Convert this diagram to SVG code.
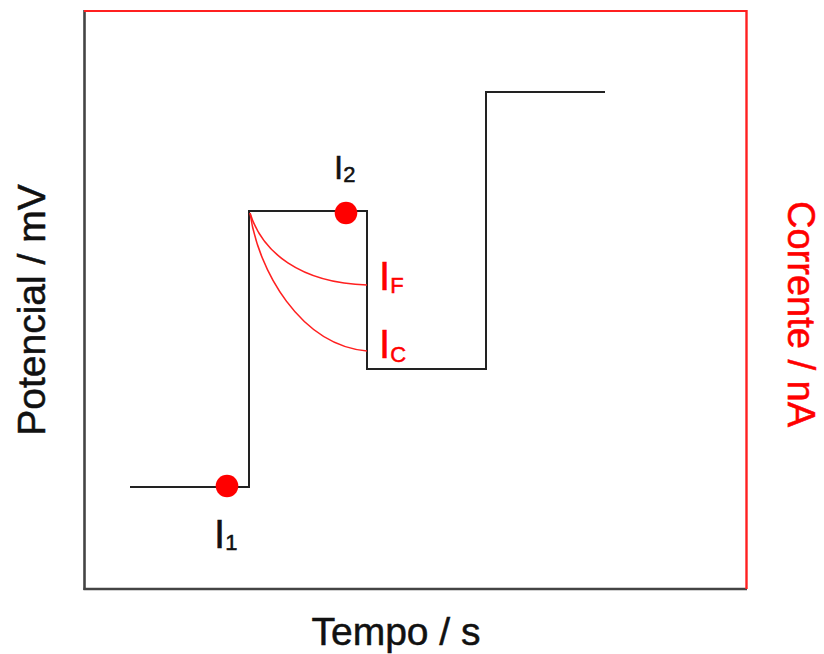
<svg xmlns="http://www.w3.org/2000/svg" width="824" height="654" viewBox="0 0 824 654">
<style>
.t{font-family:"Liberation Sans",Arial,sans-serif;stroke-width:0.5;}
.k{fill:#111;stroke:#111;}
.r{fill:#ff0000;stroke:#ff0000;}
.step{fill:none;stroke:#222;stroke-width:2;}
.cur{fill:none;stroke:#ff2020;stroke-width:1.6;}
.dot{fill:#ff0000;}
</style>
<rect width="824" height="654" fill="#fff"/>
<g id="frame">
<line x1="84.5" y1="10" x2="84.5" y2="590" stroke="#444" stroke-width="2.6"/>
<line x1="83.5" y1="589" x2="747" y2="589" stroke="#444" stroke-width="2.6"/>
<line x1="84" y1="11" x2="747" y2="11" stroke="#ff2020" stroke-width="2"/>
<line x1="746.5" y1="10" x2="746.5" y2="589" stroke="#ff2020" stroke-width="2.4"/>
</g>
<g id="connectors">
<polyline class="step" points="130,487 249,487 249,211 367,211 367,369 486,369 486,92 605,92"/>
<path class="cur" d="M250,213 C262,252 300,283 367,285"/>
<path class="cur" d="M250,213 C258,270 300,345 367,351"/>
</g>
<g id="I1">
<circle class="dot" cx="227" cy="486" r="11.3"/>
<text class="t k" x="214" y="548" font-size="40">I<tspan font-size="22" dy="2">1</tspan></text>
</g>
<g id="I2">
<circle class="dot" cx="346" cy="213" r="11.3"/>
<text class="t k" x="334" y="179" font-size="33">I<tspan font-size="22" dy="3">2</tspan></text>
</g>
<g id="IF">
<text class="t r" x="379" y="290" font-size="40">I<tspan font-size="22" dy="3">F</tspan></text>
</g>
<g id="IC">
<text class="t r" x="379" y="358" font-size="40">I<tspan font-size="22" dy="4">C</tspan></text>
</g>
<g id="axis-labels">
<text class="t k" x="396" y="645" font-size="39" text-anchor="middle">Tempo / s</text>
<text class="t k" transform="translate(45,310) rotate(-90)" font-size="39" text-anchor="middle">Potencial / mV</text>
<text class="t r" transform="translate(788,314) rotate(90)" font-size="38" text-anchor="middle">Corrente / nA</text>
</g>
</svg>
